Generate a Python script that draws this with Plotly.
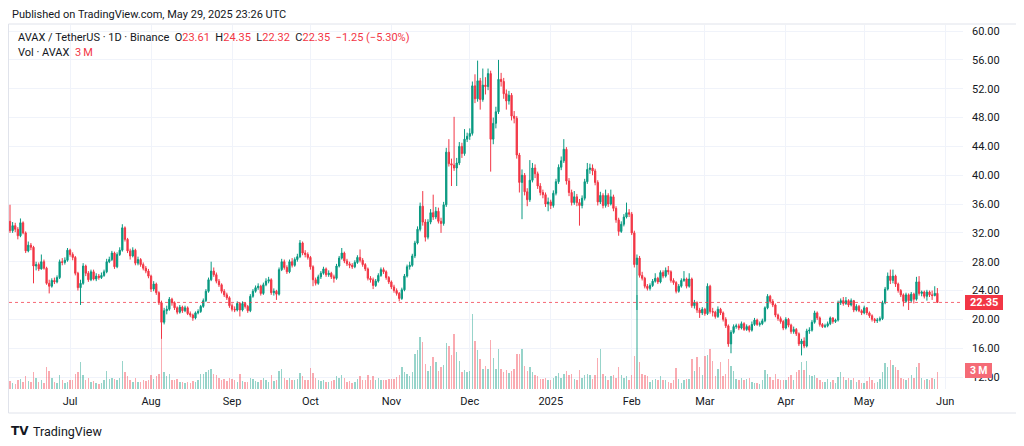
"""AVAX / TetherUS 1D candles with volume, drawn in a TradingView-like style."""

import pandas as pd
import plotly.graph_objects as go

START_DATE = "2024-06-08"
FIRST_OPEN = 33.6

# daily closes, one row per month (June 2024 starts on the 8th)
close = [
    32.3, 33.0, 32.5, 31.6, 33.4, 32.0, 29.5, 30.3, 30.0, 27.4, 27.6, 27.0, 28.0, 27.1, 25.0, 24.6, 25.4, 25.2, 25.8, 28.0, 27.9, 28.2, 29.6,
    29.0, 28.6, 26.4, 24.4, 25.0, 27.4, 26.4, 25.5, 26.6, 25.6, 26.0, 25.8, 26.1, 26.6, 28.0, 28.3, 29.2, 27.3, 29.0, 29.6, 32.7, 31.1, 29.5, 28.8, 29.6, 27.8, 28.3, 27.6, 27.1, 26.7, 26.0,
    24.2, 24.9, 23.7, 22.3, 19.6, 21.2, 21.4, 22.8, 22.3, 21.6, 21.0, 21.7, 21.2, 21.6, 20.8, 20.6, 20.2, 20.9, 21.1, 21.8, 22.6, 23.9, 25.5, 26.7, 26.2, 25.3, 24.8, 23.9, 23.4, 23.0, 21.9,
    21.4, 21.3, 22.2, 21.3, 22.2, 21.8, 21.2, 23.2, 23.9, 24.4, 24.6, 23.6, 24.8, 25.3, 25.5, 23.7, 23.9, 23.5, 26.9, 28.0, 27.2, 26.6, 28.0, 27.5, 28.3, 28.7, 30.6, 29.2, 29.0, 28.6,
    27.3, 25.5, 25.0, 25.9, 26.4, 27.0, 26.2, 26.4, 25.9, 25.7, 27.4, 28.5, 29.2, 28.1, 27.7, 27.5, 27.3, 27.9, 28.6, 28.2, 27.6, 27.0, 25.7, 25.5, 24.7, 25.3, 26.1, 26.9, 26.6, 25.8, 25.2,
    24.5, 24.0, 23.6, 22.9, 24.1, 26.0, 27.3, 27.5, 28.8, 30.6, 32.5, 35.7, 33.5, 31.4, 33.5, 34.8, 34.2, 35.0, 33.6, 33.3, 35.9, 43.2, 41.6, 41.4, 41.0, 41.7, 44.0, 43.0, 45.0, 45.4,
    45.8, 52.4, 50.6, 53.1, 50.5, 52.5, 52.3, 54.1, 45.0, 47.2, 48.8, 53.3, 53.0, 51.3, 50.3, 51.1, 48.2, 47.9, 42.8, 39.0, 40.0, 37.7, 36.6, 39.3, 41.0, 40.2, 38.5, 37.6, 37.3, 36.0, 36.3,
    35.8, 37.5, 39.1, 41.1, 42.0, 43.6, 39.2, 37.6, 36.2, 37.0, 36.2, 35.8, 36.8, 39.1, 40.8, 41.0, 40.6, 39.0, 36.3, 37.2, 35.8, 37.2, 36.0, 37.0, 35.4, 33.8, 32.2, 33.2, 34.2, 34.8, 34.6,
    32.0, 27.6, 28.5, 26.1, 25.7, 24.6, 24.3, 24.7, 25.3, 25.7, 25.2, 26.5, 26.0, 26.8, 26.6, 25.4, 25.1, 23.9, 24.6, 25.4, 25.6, 24.6, 25.6, 21.9, 22.3, 21.3, 20.9, 21.4,
    20.8, 24.6, 21.1, 21.0, 20.4, 21.4, 20.9, 20.0, 19.1, 16.6, 18.2, 19.0, 19.1, 18.8, 19.4, 18.6, 19.0, 18.5, 19.3, 19.9, 19.3, 19.4, 19.8, 21.6, 23.2, 22.5, 22.0, 20.6, 20.1, 19.7, 18.8,
    20.0, 19.2, 18.3, 18.6, 18.0, 16.6, 17.0, 16.3, 18.4, 18.5, 19.6, 20.9, 20.2, 19.3, 19.0, 19.1, 19.4, 20.2, 19.7, 19.9, 22.3, 22.6, 22.2, 22.6, 22.0, 22.6, 21.3, 21.8, 21.2, 20.9,
    21.6, 20.9, 20.5, 20.0, 19.8, 19.9, 20.1, 22.3, 24.2, 26.0, 25.4, 26.0, 24.9, 24.0, 23.4, 22.5, 23.4, 22.6, 23.5, 22.8, 25.2, 23.6, 23.8, 23.2, 23.8, 23.4, 23.3, 23.61, 22.35,
]

high = [
    35.9, 33.5, 33.4, 32.8, 34.0, 33.6, 32.2, 30.8, 30.6, 30.2, 28.0, 27.9, 29.0, 28.3, 27.3, 25.5, 25.7, 25.8, 26.1, 28.3, 28.5, 28.6, 29.9,
    29.8, 29.3, 28.8, 26.6, 25.5, 27.8, 27.6, 26.7, 26.9, 26.9, 26.4, 26.3, 26.5, 26.9, 28.4, 28.7, 29.5, 29.4, 29.3, 30.0, 33.2, 32.9, 31.3, 29.8, 30.0, 29.8, 28.7, 28.5, 27.9, 27.4, 27.0,
    26.2, 25.3, 25.1, 23.9, 22.6, 21.6, 21.9, 23.1, 23.0, 22.5, 21.8, 22.0, 21.9, 21.9, 21.8, 21.1, 20.8, 21.1, 21.4, 22.0, 22.9, 24.2, 25.8, 28.0, 27.2, 26.5, 25.6, 25.0, 24.2, 23.7, 23.2,
    22.2, 21.8, 22.5, 22.4, 22.5, 22.4, 22.0, 23.5, 24.2, 24.7, 25.0, 24.8, 25.1, 25.7, 25.9, 25.7, 24.3, 24.1, 27.2, 28.4, 28.3, 27.5, 28.3, 28.5, 28.6, 29.1, 31.0, 30.8, 29.6, 29.3,
    28.8, 27.5, 25.8, 26.2, 26.7, 27.3, 27.2, 26.8, 26.6, 26.2, 27.7, 28.8, 29.9, 29.4, 28.4, 28.0, 27.8, 28.2, 28.9, 29.7, 28.5, 27.8, 27.2, 26.0, 25.8, 25.6, 26.4, 27.2, 27.2, 26.8, 26.0,
    25.4, 24.8, 24.3, 23.8, 24.4, 26.3, 27.6, 28.0, 29.1, 30.9, 32.9, 36.2, 37.8, 33.9, 33.9, 35.3, 37.3, 35.6, 35.5, 34.1, 36.3, 43.8, 45.0, 42.3, 48.1, 42.4, 44.6, 44.5, 46.4, 45.9,
    46.5, 53.0, 54.0, 55.9, 53.5, 54.8, 53.6, 54.8, 54.5, 48.0, 49.5, 56.0, 54.2, 53.5, 51.9, 51.7, 51.4, 48.9, 48.2, 43.1, 40.8, 40.3, 38.2, 42.1, 41.7, 41.5, 40.5, 38.9, 38.0, 37.6, 36.9,
    36.6, 37.9, 39.5, 41.5, 42.6, 45.0, 43.9, 39.6, 38.0, 37.8, 37.4, 36.7, 37.2, 39.5, 41.7, 41.6, 41.5, 40.9, 39.3, 37.7, 37.5, 38.0, 37.5, 38.0, 37.3, 35.7, 34.1, 33.6, 34.6, 36.2, 35.3,
    34.9, 32.3, 29.0, 28.8, 26.6, 25.9, 24.9, 25.0, 25.6, 26.4, 25.9, 26.8, 26.8, 27.2, 27.4, 26.8, 25.7, 25.3, 24.9, 25.7, 26.7, 25.8, 26.4, 25.8, 22.7, 22.5, 21.6, 21.7,
    21.6, 25.0, 24.8, 21.6, 21.2, 21.8, 21.6, 21.1, 20.3, 19.3, 18.5, 19.3, 19.4, 19.4, 19.7, 19.6, 19.3, 19.2, 19.7, 20.2, 20.1, 19.7, 20.1, 21.8, 23.5, 23.4, 22.8, 22.2, 20.8, 20.4, 19.9,
    20.3, 20.2, 19.4, 19.0, 18.8, 18.2, 17.3, 17.5, 18.7, 18.9, 19.9, 21.2, 21.1, 20.4, 19.5, 19.4, 19.7, 20.4, 20.3, 20.1, 22.6, 22.9, 23.1, 23.1, 22.8, 22.9, 22.7, 22.1, 22.0, 21.4,
    21.9, 21.7, 21.1, 20.7, 20.2, 20.2, 20.4, 22.6, 24.5, 26.5, 26.9, 26.9, 26.2, 25.1, 24.2, 23.6, 23.7, 23.6, 23.8, 23.7, 25.9, 26.0, 24.0, 24.0, 24.1, 24.0, 24.0, 24.6, 24.35,
]

low = [
    32.0, 32.0, 32.1, 31.1, 31.4, 31.8, 29.2, 29.3, 29.6, 25.0, 26.8, 26.7, 26.9, 26.9, 24.8, 23.6, 24.4, 24.9, 25.0, 25.6, 27.5, 27.6, 28.0,
    28.7, 28.2, 26.1, 24.0, 22.0, 24.8, 26.0, 25.2, 25.3, 25.4, 25.3, 25.5, 25.6, 25.9, 26.4, 27.8, 28.1, 27.0, 27.1, 28.8, 29.4, 30.8, 29.2, 28.3, 28.6, 27.5, 27.5, 27.3, 26.8, 26.4, 25.7,
    23.8, 23.9, 23.4, 22.0, 17.3, 19.3, 20.7, 21.2, 21.9, 21.3, 20.7, 20.8, 20.9, 21.0, 20.6, 20.3, 19.8, 20.0, 20.7, 20.9, 21.6, 22.4, 23.7, 25.3, 25.9, 25.0, 24.5, 23.6, 23.1, 22.7, 21.6,
    21.1, 21.0, 21.1, 20.4, 21.1, 21.5, 20.9, 21.0, 23.0, 23.7, 24.1, 23.3, 23.4, 24.6, 25.0, 23.4, 23.3, 22.7, 23.3, 26.7, 26.9, 26.3, 26.4, 27.2, 27.3, 28.0, 28.5, 28.9, 28.6, 28.3,
    26.9, 24.6, 24.7, 24.8, 25.6, 26.2, 25.9, 25.9, 25.6, 25.1, 25.5, 27.2, 28.3, 27.8, 27.4, 27.1, 27.0, 27.1, 27.7, 27.9, 27.3, 26.7, 25.4, 25.1, 24.2, 24.5, 25.1, 25.9, 26.3, 25.5, 24.9,
    24.2, 23.7, 23.3, 22.5, 22.7, 23.9, 25.8, 26.9, 27.3, 28.5, 30.4, 32.2, 33.0, 30.8, 31.1, 33.2, 33.8, 33.9, 33.3, 32.0, 33.0, 35.6, 41.2, 38.5, 40.6, 38.5, 41.4, 42.4, 42.7, 44.6,
    44.9, 45.5, 50.0, 50.2, 49.1, 50.2, 51.2, 51.8, 40.5, 44.3, 46.5, 48.5, 52.3, 50.6, 49.1, 49.8, 47.6, 47.2, 42.3, 37.6, 33.9, 37.2, 35.7, 36.3, 39.0, 39.6, 38.1, 37.2, 36.8, 35.6, 35.0,
    35.3, 35.5, 37.2, 38.8, 40.7, 41.7, 38.7, 37.1, 35.8, 35.9, 35.7, 33.0, 35.4, 36.5, 38.8, 40.2, 40.0, 38.6, 35.8, 36.0, 35.4, 35.5, 35.6, 35.8, 35.0, 33.4, 31.6, 32.0, 32.9, 34.0, 34.2,
    31.7, 27.2, 21.3, 25.8, 25.4, 24.3, 24.0, 24.0, 24.5, 25.1, 24.9, 25.0, 25.7, 25.8, 26.2, 25.1, 24.8, 23.6, 23.7, 24.4, 25.2, 24.3, 24.4, 21.6, 21.5, 20.9, 20.2, 20.6,
    20.5, 20.6, 20.8, 20.4, 20.1, 20.2, 20.6, 19.7, 18.8, 16.2, 15.3, 18.0, 18.7, 18.5, 18.6, 18.4, 18.4, 18.2, 18.3, 19.1, 19.1, 19.0, 19.2, 19.6, 21.4, 22.2, 21.7, 20.3, 19.8, 19.4, 18.5,
    18.6, 18.9, 18.0, 18.0, 17.7, 16.3, 15.0, 16.0, 16.1, 18.0, 18.3, 19.4, 19.9, 19.0, 18.8, 18.8, 18.9, 19.2, 19.4, 19.5, 19.7, 22.0, 21.9, 22.0, 21.7, 21.8, 21.0, 21.1, 21.0, 20.6,
    20.7, 20.6, 20.2, 19.7, 19.5, 19.5, 19.7, 19.9, 22.1, 24.0, 24.9, 25.0, 24.5, 23.7, 23.1, 21.8, 22.3, 21.3, 22.4, 22.2, 22.6, 23.3, 23.2, 22.9, 22.6, 23.1, 22.7, 23.2, 22.32,
]

# daily volume in millions of AVAX
volume_m = [
    1.4, 1.0, 0.9, 1.5, 1.8, 1.3, 2.2, 1.4, 1.3, 3.0, 1.9, 1.2, 1.6, 1.1, 3.8, 3.2, 2.0, 1.3, 1.1, 2.4, 1.5, 1.0, 1.3,
    1.6, 1.5, 2.6, 3.0, 4.7, 2.4, 1.6, 2.0, 1.3, 1.4, 1.0, 0.9, 1.1, 1.6, 3.1, 1.8, 1.9, 1.8, 1.5, 2.0, 4.9, 3.0, 2.3, 1.6, 1.3, 2.0, 1.2, 1.3, 1.5, 1.4, 1.6,
    2.4, 1.8, 2.2, 2.6, 9.0, 3.0, 2.2, 2.6, 1.6, 1.5, 1.8, 1.3, 1.2, 1.0, 1.3, 1.1, 1.4, 1.2, 1.5, 2.6, 2.7, 3.0, 3.4, 3.6, 2.6, 2.4, 2.0, 1.6, 1.8, 1.4, 2.0,
    1.8, 1.5, 1.3, 2.6, 1.4, 1.2, 1.3, 2.0, 1.8, 1.4, 1.2, 1.6, 1.9, 1.5, 1.2, 2.4, 1.4, 1.6, 3.2, 3.5, 2.0, 1.6, 1.9, 1.5, 1.6, 1.8, 2.8, 2.2, 1.6, 1.5,
    3.7, 2.8, 2.0, 1.6, 1.4, 1.5, 1.3, 1.2, 1.4, 1.6, 2.2, 2.0, 2.4, 1.9, 1.3, 1.4, 1.1, 1.3, 1.8, 2.2, 1.6, 1.5, 2.4, 1.5, 2.2, 1.6, 1.9, 1.6, 1.5, 1.6, 1.7,
    1.8, 1.7, 2.1, 2.4, 3.9, 3.0, 2.6, 2.2, 3.0, 6.1, 6.8, 9.1, 8.2, 4.4, 3.2, 4.0, 5.6, 4.7, 3.2, 3.8, 4.2, 8.1, 7.5, 6.0, 9.6, 6.5, 4.9, 3.0, 3.4, 3.0,
    3.2, 13.2, 8.4, 6.8, 5.3, 3.5, 4.0, 3.6, 8.6, 5.5, 3.5, 7.0, 3.6, 3.0, 3.4, 2.8, 3.1, 3.5, 6.1, 6.1, 7.0, 4.0, 3.2, 3.8, 3.0, 2.4, 2.2, 1.7, 1.8, 2.0, 1.6,
    1.6, 2.0, 2.3, 2.8, 2.0, 2.6, 3.1, 2.5, 2.6, 1.8, 1.5, 3.3, 2.0, 2.4, 2.7, 2.5, 1.8, 2.4, 5.5, 7.0, 2.7, 2.3, 1.6, 2.2, 2.4, 1.9, 3.9, 2.4, 2.0, 2.2, 1.6,
    2.5, 5.8, 16.5, 4.7, 2.6, 2.5, 2.3, 1.3, 1.6, 1.8, 1.5, 2.3, 1.5, 1.6, 1.2, 1.0, 1.6, 3.7, 1.8, 1.1, 1.6, 1.8, 1.8, 5.3, 3.2, 5.6, 3.8, 2.5,
    5.8, 6.0, 7.0, 5.0, 2.2, 3.5, 4.7, 2.2, 2.6, 5.3, 4.0, 3.2, 1.8, 1.5, 2.0, 1.5, 1.7, 2.0, 1.2, 1.0, 1.0, 0.9, 1.6, 3.3, 2.6, 2.1, 1.6, 2.6, 1.8, 1.6, 1.6,
    1.6, 2.1, 2.5, 1.5, 3.0, 3.3, 4.7, 3.3, 4.9, 2.5, 2.3, 2.4, 1.9, 1.6, 1.3, 1.2, 1.8, 1.2, 1.5, 1.1, 2.1, 3.0, 2.1, 1.6, 1.9, 1.5, 1.9, 1.2, 1.5, 1.0,
    1.1, 1.4, 2.1, 1.6, 1.0, 1.2, 1.8, 3.0, 4.5, 3.9, 5.1, 4.3, 3.9, 3.3, 1.9, 1.8, 1.6, 1.9, 2.5, 2.0, 3.9, 4.5, 2.0, 1.5, 1.8, 1.5, 1.9, 1.8, 3.0,
]

month_labels = ["Jul", "Aug", "Sep", "Oct", "Nov", "Dec", "2025", "Feb", "Mar", "Apr", "May", "Jun"]
price_ticks = list(range(12, 61, 4))

UP = "#089981"
DOWN = "#f23645"
TEXT = "#131722"
GRID = "#f0f3fa"
FONT = "Roboto, Arial, sans-serif"

dates = pd.date_range(START_DATE, periods=len(close), freq="D")
opens = [FIRST_OPEN] + close[:-1]
month_ticks = pd.date_range("2024-07-01", periods=len(month_labels), freq="MS")

vol_colors = [
    "rgba(8,153,129,0.42)" if c >= o else "rgba(242,54,69,0.42)"
    for o, c in zip(opens, close)
]

fig = go.Figure()

# volume sits on the hidden base axis so the candles draw on top of it
fig.add_trace(go.Bar(
    x=dates,
    y=volume_m,
    marker=dict(color=vol_colors, line=dict(width=0)),
    width=0.55 * 86400000,
    yaxis="y",
    hoverinfo="skip",
    showlegend=False,
))

fig.add_trace(go.Candlestick(
    x=dates,
    open=opens,
    high=high,
    low=low,
    close=close,
    yaxis="y2",
    increasing=dict(line=dict(color=UP, width=1), fillcolor=UP),
    decreasing=dict(line=dict(color=DOWN, width=1), fillcolor=DOWN),
    whiskerwidth=0,
    hoverinfo="skip",
    showlegend=False,
))

# the page body adds an 8px offset, so the figure is 8px smaller than the window;
# the plot spans window pixels 9..963 horizontally and 25..389 vertically
x_left = pd.Timestamp("2024-06-07 14:48")
x_right = x_left + pd.Timedelta(days=365.2)


def px_x(x):
    return (x - 9) / 954


def px_y(y):
    return (389 - y) / 364


last_close = close[-1]
last_vol = volume_m[-1]

fig.update_layout(
    width=1016,
    height=438,
    margin=dict(l=1, r=61, t=17, b=57),
    paper_bgcolor="white",
    plot_bgcolor="white",
    font=dict(family=FONT, size=11, color=TEXT),
    bargap=0,
    xaxis=dict(
        type="date",
        range=[x_left, x_right],
        tickvals=month_ticks,
        ticktext=month_labels,
        showgrid=True,
        gridcolor=GRID,
        gridwidth=1,
        zeroline=False,
        showline=False,
        ticks="",
        tickfont=dict(size=11, color=TEXT),
        ticklabelstandoff=4,
        rangeslider=dict(visible=False),
        fixedrange=True,
    ),
    yaxis=dict(
        range=[0, 64],
        visible=False,
        fixedrange=True,
    ),
    yaxis2=dict(
        overlaying="y",
        side="right",
        range=[10.34, 60.84],
        tickvals=price_ticks,
        ticktext=[f"{v:.2f}" for v in price_ticks],
        showgrid=True,
        gridcolor=GRID,
        gridwidth=1,
        zeroline=False,
        showline=False,
        ticks="",
        ticklabelstandoff=8,
        tickfont=dict(size=11, color=TEXT),
        fixedrange=True,
    ),
)

shapes = [
    # outer chart frame
    dict(type="rect", xref="paper", yref="paper",
         x0=px_x(8.5), x1=px_x(1021), y0=px_y(413), y1=px_y(24),
         line=dict(color="#e0e3eb", width=1), fillcolor="rgba(0,0,0,0)", layer="below"),
    # last price line
    dict(type="line", xref="paper", yref="y2", x0=0, x1=1, y0=last_close, y1=last_close,
         line=dict(color="rgba(242,54,69,0.75)", width=1, dash="dot")),
    # last price tag
    dict(type="rect", xref="paper", yref="paper",
         x0=px_x(965), x1=px_x(1003), y0=px_y(310), y1=px_y(295),
         line=dict(width=0), fillcolor=DOWN),
    # last volume tag
    dict(type="rect", xref="paper", yref="paper",
         x0=px_x(965), x1=px_x(992), y0=px_y(378), y1=px_y(363),
         line=dict(width=0), fillcolor="#f56b76"),
]

red = f"<span style='color:{DOWN}'>"
header = (
    "AVAX / TetherUS · 1D · Binance&nbsp;&nbsp;"
    f"O{red}23.61</span>&nbsp;&nbsp;H{red}24.35</span>&nbsp;&nbsp;"
    f"L{red}22.32</span>&nbsp;&nbsp;C{red}22.35</span>&nbsp;&nbsp;"
    f"{red}−1.25 (−5.30%)</span>"
)

annotations = [
    dict(text="Published on TradingView.com, May 29, 2025 23:26 UTC",
         x=px_x(10), y=px_y(14), xanchor="left", yanchor="middle",
         font=dict(size=11, color=TEXT)),
    dict(text=header, x=px_x(16), y=px_y(38), xanchor="left", yanchor="middle",
         font=dict(size=11, color=TEXT)),
    dict(text=f"Vol · AVAX&nbsp;&nbsp;{red}3\u2009M</span>", x=px_x(16), y=px_y(53),
         xanchor="left", yanchor="middle", font=dict(size=11, color=TEXT)),
    dict(text=f"<b>{last_close:.2f}</b>", x=px_x(984), y=px_y(302.5),
         xanchor="center", yanchor="middle", font=dict(size=11, color="white")),
    dict(text=f"<b>{last_vol:.0f}\u2009M</b>", x=px_x(978.5), y=px_y(370.5),
         xanchor="center", yanchor="middle", font=dict(size=10.5, color="white")),
    dict(text="<b>TV</b>", x=px_x(9), y=px_y(431), xanchor="left", yanchor="middle",
         font=dict(size=12, color=TEXT, family="DejaVu Sans")),
    dict(text="TradingView", x=px_x(31), y=px_y(431), xanchor="left", yanchor="middle",
         font=dict(size=12.5, color=TEXT)),
]

for a in annotations:
    a.update(xref="paper", yref="paper", showarrow=False)

fig.update_layout(shapes=shapes, annotations=annotations)

fig.write_html("out.html")
